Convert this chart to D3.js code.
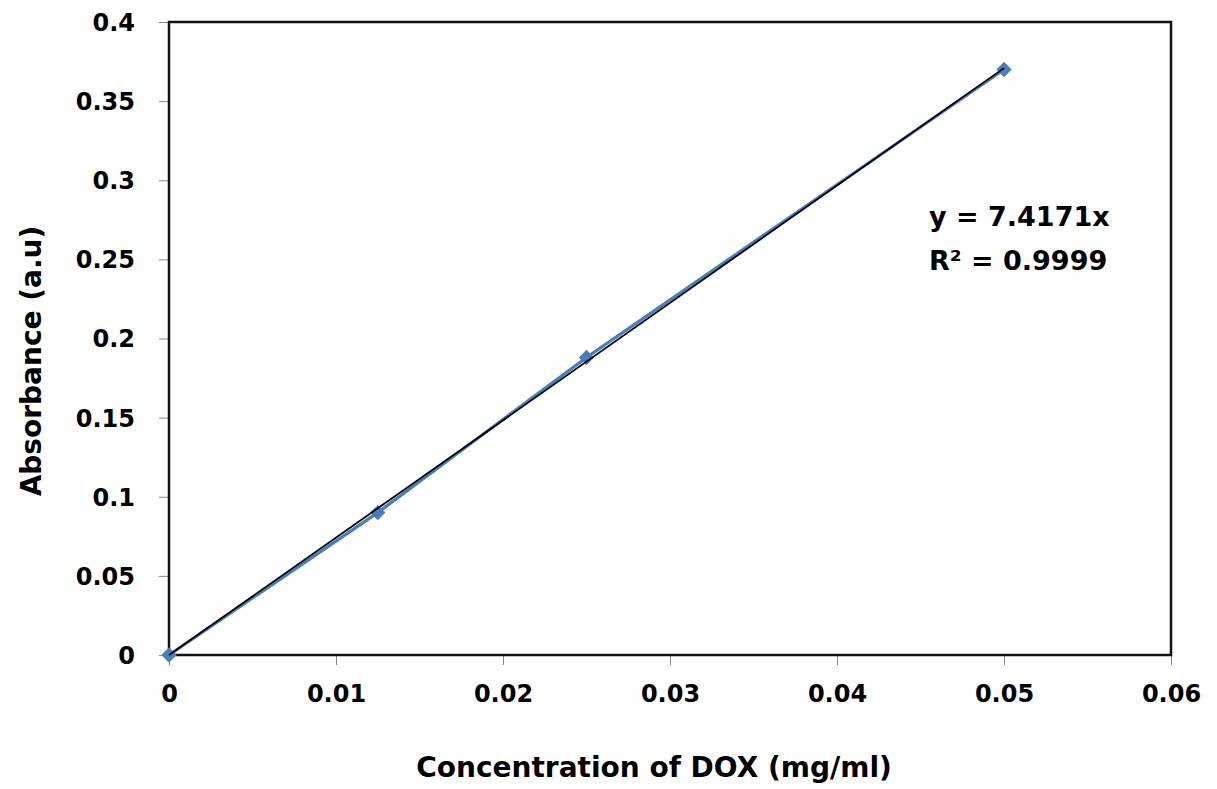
<!DOCTYPE html>
<html>
<head>
<meta charset="utf-8">
<title>DOX calibration curve</title>
<style>
body { margin: 0; background: #fff; }
text { font-family: "DejaVu Sans", "Open Sans", sans-serif; font-weight: bold; fill: #000; }
</style>
</head>
<body>
<div id="container"></div>
<script src="https://cdn.jsdelivr.net/npm/d3@7"></script>
<script>
// Data
const concentration = [0, 0.0125, 0.025, 0.05];
const absorbance = [0, 0.09, 0.188, 0.37];
const slope = 7.4171;
const xTicks = [0, 0.01, 0.02, 0.03, 0.04, 0.05, 0.06];
const yTicks = [0, 0.05, 0.1, 0.15, 0.2, 0.25, 0.3, 0.35, 0.4];
const equationLines = ["y = 7.4171x", "R² = 0.9999"];

const width = 1217;
const height = 789;
const marginTop = 22;
const marginRight = 46;
const marginBottom = 134;
const marginLeft = 169;

const data = concentration.map((c, i) => ({x: c, y: absorbance[i]}));

const x = d3.scaleLinear()
    .domain([0, 0.06])
    .range([marginLeft, width - marginRight]);

const y = d3.scaleLinear()
    .domain([0, 0.4])
    .range([height - marginBottom, marginTop]);

const svg = d3.create("svg")
    .attr("width", width)
    .attr("height", height);

// x axis
const xAxis = svg.append("g")
    .attr("transform", `translate(0,${height - marginBottom})`)
    .call(d3.axisBottom(x).tickValues(xTicks).tickSize(10).tickPadding(20).tickFormat(d3.format("")));
xAxis.select(".domain").remove();
xAxis.selectAll("line").attr("stroke", "#888");
xAxis.selectAll("text").attr("font-size", 24);

// y axis
const yAxis = svg.append("g")
    .attr("transform", `translate(${marginLeft},0)`)
    .call(d3.axisLeft(y).tickValues(yTicks).tickSize(10).tickPadding(24).tickFormat(d3.format("")));
yAxis.select(".domain").remove();
yAxis.selectAll("line").attr("stroke", "#888");
yAxis.selectAll("text").attr("font-size", 24).attr("dy", "0.35em");

// plot frame
svg.append("rect")
    .attr("x", x(0))
    .attr("y", y(0.4))
    .attr("width", x(0.06) - x(0))
    .attr("height", y(0) - y(0.4))
    .attr("fill", "none")
    .attr("stroke", "#111")
    .attr("stroke-width", 2.5);

// data series
svg.append("path")
    .attr("fill", "none")
    .attr("stroke", "#4a7ebb")
    .attr("stroke-width", 3.2)
    .attr("d", d3.line().x(d => x(d.x)).y(d => y(d.y))(data));

svg.append("g")
    .selectAll("path")
    .data(data)
    .join("path")
    .attr("transform", d => `translate(${x(d.x)},${y(d.y)})`)
    .attr("d", d3.symbol(d3.symbolDiamond2, 150))
    .attr("fill", "#4a7ebb");

// linear trendline through origin
const xMax = d3.max(concentration);
svg.append("path")
    .attr("fill", "none")
    .attr("stroke", "#000")
    .attr("stroke-width", 1.8)
    .attr("d", d3.line().x(d => x(d)).y(d => y(slope * d))([0, xMax]));

// equation
svg.append("g")
    .selectAll("text")
    .data(equationLines)
    .join("text")
    .attr("x", 929)
    .attr("y", (d, i) => 226 + i * 44)
    .attr("font-size", 27)
    .text(d => d);

// axis titles
svg.append("text")
    .attr("x", 654)
    .attr("y", 777)
    .attr("text-anchor", "middle")
    .attr("font-size", 28)
    .text("Concentration of DOX (mg/ml)");

svg.append("text")
    .attr("transform", `translate(41,${361}) rotate(-90)`)
    .attr("text-anchor", "middle")
    .attr("font-size", 28)
    .text("Absorbance (a.u)");

container.append(svg.node());
</script>
</body>
</html>
